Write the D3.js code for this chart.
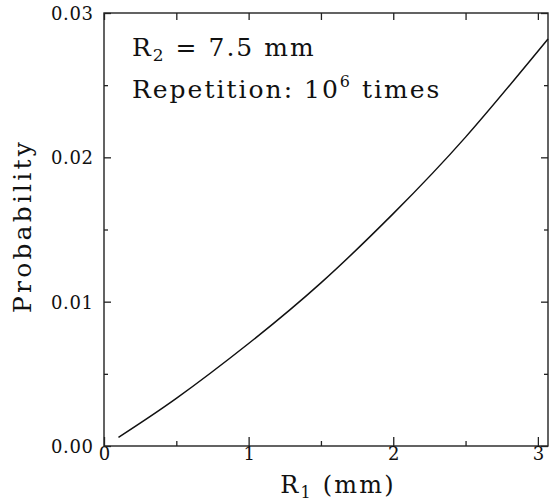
<!DOCTYPE html>
<html><head><meta charset="utf-8">
<script src="https://cdn.jsdelivr.net/npm/d3@7"></script>
<style>body{margin:0;background:#fff}svg{display:block}text{font-family:"DejaVu Serif",serif;fill:#111}</style>
</head><body>
<svg id="c" width="549" height="502"></svg>
<script>
const r1 = [0.1, 0.5, 1.0, 1.5, 2.0, 2.5, 3.07];
const prob = [0.0006, 0.0033, 0.0071, 0.0113, 0.0161, 0.0214, 0.0282];
const xMajor = [0, 1, 2, 3];
const xMinor = [0.5, 1.5, 2.5];
const yMajor = [0.00, 0.01, 0.02, 0.03];
const yMinor = [0.005, 0.015, 0.025];

const W = 549, H = 502;
const m = {left: 104, top: 13, right: 1, bottom: 56};
const svg = d3.select("#c");
const x = d3.scaleLinear().domain([0, 3.07]).range([m.left, W - m.right]);
const y = d3.scaleLinear().domain([0, 0.03]).range([H - m.bottom, m.top]);
const stroke = "#222";

// frame
svg.append("rect").attr("x", x(0)).attr("y", y(0.03))
  .attr("width", x(3.07) - x(0)).attr("height", y(0) - y(0.03))
  .attr("fill", "none").attr("stroke", stroke).attr("stroke-width", 1.4);

// bottom axis
const gB = svg.append("g").attr("transform", `translate(0,${y(0)})`)
  .call(d3.axisBottom(x).tickValues(xMajor).tickFormat(d3.format("d")).tickSize(-9).tickPadding(5));
svg.append("g").attr("transform", `translate(0,${y(0)})`)
  .call(d3.axisBottom(x).tickValues(xMinor).tickFormat("").tickSize(-5));
// top axis ticks
svg.append("g").attr("transform", `translate(0,${y(0.03)})`)
  .call(d3.axisTop(x).tickValues(xMajor.concat(xMinor)).tickFormat("").tickSize(-7));
// left axis
const gL = svg.append("g").attr("transform", `translate(${x(0)},0)`)
  .call(d3.axisLeft(y).tickValues(yMajor).tickFormat(d3.format(".2f")).tickSize(-7).tickPadding(11));
svg.append("g").attr("transform", `translate(${x(0)},0)`)
  .call(d3.axisLeft(y).tickValues(yMinor).tickFormat("").tickSize(-4));
// right axis ticks
svg.append("g").attr("transform", `translate(${x(3.07)},0)`)
  .call(d3.axisRight(y).tickValues(yMajor).tickFormat("").tickSize(-7));
svg.append("g").attr("transform", `translate(${x(3.07)},0)`)
  .call(d3.axisRight(y).tickValues(yMinor).tickFormat("").tickSize(-4));

svg.selectAll(".domain").remove();
svg.selectAll(".tick line").attr("stroke", stroke).attr("stroke-width", 1.3);
svg.selectAll(".tick text").attr("font-size", 18).attr("fill", "#111")
  .attr("font-family", '"DejaVu Serif",serif');
gB.selectAll(".tick text").attr("dy", "0.5em");
gL.selectAll(".tick text").attr("dy", "0.36em").attr("textLength", 42).attr("lengthAdjust", "spacing");

// curve
const line = d3.line().x((d, i) => x(r1[i])).y(d => y(d)).curve(d3.curveNatural);
svg.append("path").datum(prob).attr("d", line)
  .attr("fill", "none").attr("stroke", "#111").attr("stroke-width", 1.5);

// axis titles
const xt = svg.append("text").attr("x", 338).attr("y", 493).attr("text-anchor", "middle")
  .attr("font-size", 24).attr("letter-spacing", 2.2);
xt.append("tspan").text("R");
xt.append("tspan").attr("font-size", 16).attr("dy", 5).text("1");
xt.append("tspan").attr("dy", -5).text(" (mm)");

svg.append("text").attr("transform", "translate(31,226) rotate(-90)")
  .attr("text-anchor", "middle").attr("font-size", 25).attr("letter-spacing", 3.2).text("Probability");

// annotations
const a1 = svg.append("text").attr("x", 132).attr("y", 56).attr("font-size", 25).attr("letter-spacing", 2);
a1.append("tspan").text("R");
a1.append("tspan").attr("font-size", 17).attr("dy", 5).text("2");
a1.append("tspan").attr("dy", -5).text(" = 7.5 mm");
const a2 = svg.append("text").attr("x", 132).attr("y", 98).attr("font-size", 25).attr("letter-spacing", 2);
a2.append("tspan").text("Repetition: 10");
a2.append("tspan").attr("font-size", 16).attr("dy", -11).text("6");
a2.append("tspan").attr("dy", 11).text(" times");
</script>
</body></html>
